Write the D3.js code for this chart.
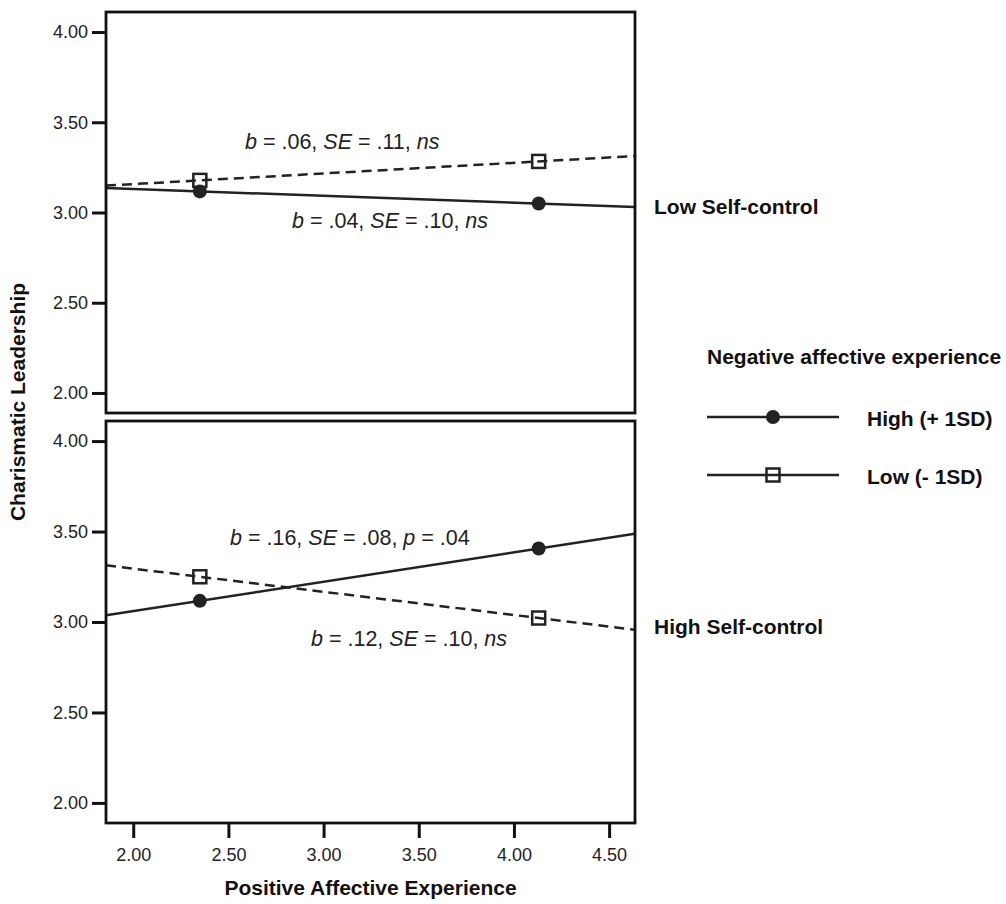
<!DOCTYPE html>
<html>
<head>
<meta charset="utf-8">
<script src="https://cdn.jsdelivr.net/npm/d3@7"></script>
<style>
  body { margin: 0; background: #fff; }
  svg { display: block; font-family: "Liberation Sans", Arial, sans-serif; }
</style>
</head>
<body>
<svg id="chart" width="1006" height="904"></svg>
<script>
// ---------------- data ----------------
const panels = ["Low Self-control", "High Self-control"];
const xPoints = [2.35, 4.13];                 // -1SD / +1SD of Positive Affective Experience
const highNegLowSC  = [3.117, 3.050];        // High (+1SD) negative affect, low self-control
const lowNegLowSC   = [3.178, 3.283];        // Low (-1SD) negative affect, low self-control
const highNegHighSC = [3.117, 3.406];        // High (+1SD), high self-control
const lowNegHighSC  = [3.250, 3.022];        // Low (-1SD), high self-control
const yTicks = [2.00, 2.50, 3.00, 3.50, 4.00];
const xTicks = [2.00, 2.50, 3.00, 3.50, 4.00, 4.50];
const legendLabels = ["High (+ 1SD)", "Low (- 1SD)"];
const legendTitle = "Negative affective experience";
const xTitle = "Positive Affective Experience";
const yTitle = "Charismatic Leadership";
// annotation text pieces: [text, italic]
const annLowSC_low  = [["b", 1], [" = .06, ", 0], ["SE", 1], [" = .11, ", 0], ["ns", 1]];
const annLowSC_high = [["b", 1], [" = .04, ", 0], ["SE", 1], [" = .10, ", 0], ["ns", 1]];
const annHighSC_high = [["b", 1], [" = .16, ", 0], ["SE", 1], [" = .08, ", 0], ["p", 1], [" = .04", 0]];
const annHighSC_low  = [["b", 1], [" = .12, ", 0], ["SE", 1], [" = .10, ", 0], ["ns", 1]];

// ---------------- layout ----------------
const svg = d3.select("#chart");
const ink = "#222";
const left = 106, right = 635;
const panelBoxes = [{top: 12, bottom: 413}, {top: 421, bottom: 823}];
const xDomain = [1.857, 4.636];
const yDomain = [1.889, 4.111];
const x = d3.scaleLinear().domain(xDomain).range([left, right]);

const panelData = [
  {label: panels[0], high: highNegLowSC, low: lowNegLowSC,
   ann: [{parts: annLowSC_low, px: 245, py: 149}, {parts: annLowSC_high, px: 292, py: 228}], labelY: 214},
  {label: panels[1], high: highNegHighSC, low: lowNegHighSC,
   ann: [{parts: annHighSC_high, px: 230, py: 545}, {parts: annHighSC_low, px: 311, py: 646}], labelY: 634}
];

function extend(vals) {
  // straight line through the two plotted points, drawn across the x range
  const slope = (vals[1] - vals[0]) / (xPoints[1] - xPoints[0]);
  return xDomain.map(xv => [xv, vals[0] + slope * (xv - xPoints[0])]);
}

panelData.forEach((p, i) => {
  const box = panelBoxes[i];
  const y = d3.scaleLinear().domain(yDomain).range([box.bottom, box.top]);
  const g = svg.append("g");

  const clipId = "clip" + i;
  svg.append("clipPath").attr("id", clipId).append("rect")
    .attr("x", left).attr("y", box.top).attr("width", right - left).attr("height", box.bottom - box.top);

  const line = d3.line().x(d => x(d[0])).y(d => y(d[1]));
  const plot = g.append("g").attr("clip-path", `url(#${clipId})`);

  // Low (-1SD): dashed line with hollow squares
  plot.append("path").datum(extend(p.low)).attr("d", line)
    .attr("fill", "none").attr("stroke", ink).attr("stroke-width", 2.5)
    .attr("stroke-dasharray", "10,6");
  // High (+1SD): solid line with filled circles
  plot.append("path").datum(extend(p.high)).attr("d", line)
    .attr("fill", "none").attr("stroke", ink).attr("stroke-width", 2.5);

  g.selectAll(".sq").data(p.low).enter().append("rect")
    .attr("x", (d, j) => x(xPoints[j]) - 6.5).attr("y", d => y(d) - 6.5)
    .attr("width", 13).attr("height", 13)
    .attr("fill", "none").attr("stroke", ink).attr("stroke-width", 2.5);
  g.selectAll(".dot").data(p.high).enter().append("circle")
    .attr("cx", (d, j) => x(xPoints[j])).attr("cy", d => y(d)).attr("r", 7)
    .attr("fill", ink);

  // frame
  g.append("rect").attr("x", left).attr("y", box.top)
    .attr("width", right - left).attr("height", box.bottom - box.top)
    .attr("fill", "none").attr("stroke", "#111").attr("stroke-width", 2.8);

  // y axis
  const ya = g.append("g").attr("transform", `translate(${left},0)`)
    .call(d3.axisLeft(y).tickValues(yTicks).tickFormat(d3.format(".2f")).tickSize(14).tickPadding(4));
  ya.select(".domain").remove();
  ya.selectAll(".tick line").attr("stroke", "#111").attr("stroke-width", 3);
  ya.selectAll(".tick text").attr("font-size", 18).attr("fill", ink)
    .attr("font-family", "'Liberation Sans', Arial, sans-serif");

  // annotations
  p.ann.forEach(a => {
    const t = g.append("text").attr("x", a.px).attr("y", a.py)
      .attr("font-size", 21.5).attr("fill", ink);
    a.parts.forEach(part => {
      t.append("tspan").text(part[0]).attr("font-style", part[1] ? "italic" : "normal");
    });
  });

  // panel label
  g.append("text").attr("x", 654).attr("y", p.labelY)
    .attr("font-size", 21).attr("font-weight", "bold").attr("fill", "#111").text(p.label);

  // x axis on the bottom panel
  if (i === panelData.length - 1) {
    const xa = g.append("g").attr("transform", `translate(0,${box.bottom})`)
      .call(d3.axisBottom(x).tickValues(xTicks).tickFormat(d3.format(".2f")).tickSize(15).tickPadding(10));
    xa.select(".domain").remove();
    xa.selectAll(".tick line").attr("stroke", "#111").attr("stroke-width", 3);
    xa.selectAll(".tick text").attr("font-size", 18).attr("fill", ink)
      .attr("font-family", "'Liberation Sans', Arial, sans-serif");
  }
});

// axis titles
svg.append("text").attr("x", (left + right) / 2).attr("y", 895)
  .attr("text-anchor", "middle").attr("font-size", 21).attr("font-weight", "bold")
  .attr("fill", "#111").text(xTitle);
svg.append("text").attr("transform", "translate(25,402) rotate(-90)")
  .attr("text-anchor", "middle").attr("font-size", 21).attr("font-weight", "bold")
  .attr("fill", "#111").text(yTitle);

// legend
const lg = svg.append("g");
lg.append("text").attr("x", 707).attr("y", 364).attr("font-size", 21)
  .attr("font-weight", "bold").attr("fill", "#111").text(legendTitle);
const legendRows = [{y: 417, marker: "circle"}, {y: 475, marker: "square"}];
legendLabels.forEach((lab, k) => {
  const r = legendRows[k];
  lg.append("line").attr("x1", 707).attr("x2", 839).attr("y1", r.y).attr("y2", r.y)
    .attr("stroke", ink).attr("stroke-width", 2.5);
  if (r.marker === "circle") {
    lg.append("circle").attr("cx", 773).attr("cy", r.y).attr("r", 7).attr("fill", ink);
  } else {
    lg.append("rect").attr("x", 773 - 6.5).attr("y", r.y - 6.5).attr("width", 13).attr("height", 13)
      .attr("fill", "#fff").attr("stroke", ink).attr("stroke-width", 2.5);
    lg.append("line").attr("x1", 766.5).attr("x2", 779.5).attr("y1", r.y).attr("y2", r.y)
      .attr("stroke", ink).attr("stroke-width", 2.5);
  }
  lg.append("text").attr("x", 867).attr("y", r.y + 9).attr("font-size", 21)
    .attr("font-weight", "bold").attr("fill", "#111").text(lab);
});
</script>
</body>
</html>
